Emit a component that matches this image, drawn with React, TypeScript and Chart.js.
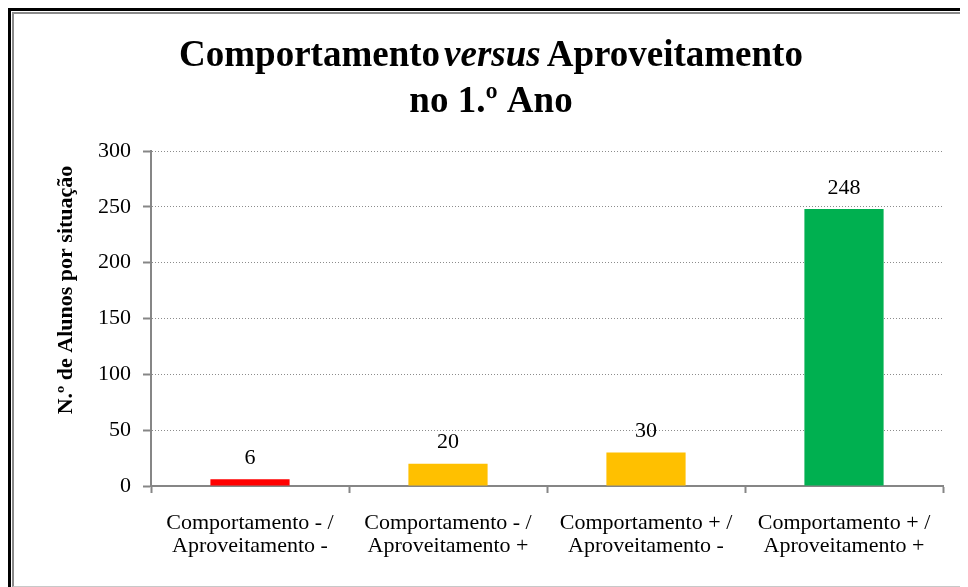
import React, { useEffect, useRef } from "react";
import { Chart, registerables } from "chart.js";

Chart.register(...registerables);

// ---- data ----
const categories: string[][] = [
  ["Comportamento - /", "Aproveitamento -"],
  ["Comportamento - /", "Aproveitamento +"],
  ["Comportamento + /", "Aproveitamento -"],
  ["Comportamento + /", "Aproveitamento +"],
];
const values: number[] = [6, 20, 30, 248];
const barColors: string[] = ["#FF0000", "#FFC000", "#FFC000", "#00B050"];
const yTicks: number[] = [0, 50, 100, 150, 200, 250, 300];
const titleLine1: string[] = ["Comportamento", "versus", "Aproveitamento"];
const titleLine2 = "no 1.º Ano";
const yAxisTitle = "N.º de Alunos por situação";

const SERIF = "'Liberation Serif', 'Times New Roman', serif";
const CANVAS_W = 954;
const CANVAS_H = 572;

const titlePlugin = {
  id: "customTitle",
  afterDraw(chart: any) {
    const ctx: CanvasRenderingContext2D = chart.ctx;
    ctx.save();
    ctx.fillStyle = "#000";
    ctx.textBaseline = "alphabetic";
    ctx.textAlign = "left";
    const fonts = [`bold 37px ${SERIF}`, `italic bold 37px ${SERIF}`, `bold 37px ${SERIF}`];
    const gaps = [4, 6];
    const widths = titleLine1.map((t, i) => {
      ctx.font = fonts[i];
      return ctx.measureText(t).width;
    });
    const total = widths.reduce((a, b) => a + b, 0) + gaps[0] + gaps[1];
    const cx = chart.width / 2;
    let x = cx - total / 2;
    titleLine1.forEach((t, i) => {
      ctx.font = fonts[i];
      ctx.fillText(t, x, 52);
      x += widths[i] + (gaps[i] || 0);
    });
    ctx.font = `bold 37px ${SERIF}`;
    ctx.textAlign = "center";
    ctx.fillText(titleLine2, cx, 98);

    // y axis title
    ctx.translate(52, 276);
    ctx.rotate(-Math.PI / 2);
    ctx.font = `bold 22px ${SERIF}`;
    ctx.textAlign = "center";
    ctx.textBaseline = "middle";
    ctx.fillText(yAxisTitle, 0, 0);
    ctx.restore();
  },
};

const dataLabelPlugin = {
  id: "dataLabels",
  afterDatasetsDraw(chart: any) {
    const ctx: CanvasRenderingContext2D = chart.ctx;
    const meta = chart.getDatasetMeta(0);
    ctx.save();
    ctx.fillStyle = "#000";
    ctx.font = `22px ${SERIF}`;
    ctx.textAlign = "center";
    ctx.textBaseline = "middle";
    meta.data.forEach((bar: any, i: number) => {
      ctx.fillText(String(values[i]), bar.x, bar.y - 21);
    });
    ctx.restore();
  },
};

export default function App() {
  const ref = useRef<HTMLCanvasElement | null>(null);

  useEffect(() => {
    if (!ref.current) return;
    const chart = new Chart(ref.current, {
      type: "bar",
      data: {
        labels: categories,
        datasets: [
          {
            data: values,
            backgroundColor: barColors,
            borderWidth: 0,
            barPercentage: 0.4,
            categoryPercentage: 1,
          },
        ],
      },
      options: {
        animation: false,
        responsive: false,
        devicePixelRatio: 1,
        layout: { padding: { left: 0, right: 25, top: 137, bottom: 0 } },
        plugins: {
          legend: { display: false },
          title: { display: false },
          tooltip: { enabled: false },
        },
        scales: {
          x: {
            grid: {
              drawOnChartArea: false,
              drawTicks: true,
              tickLength: 7,
              tickColor: "#868686",
              tickWidth: 2,
              offset: true,
            },
            border: { color: "#868686", width: 2 },
            ticks: {
              color: "#000",
              font: { family: SERIF, size: 22, lineHeight: 1.05 },
              padding: 19,
              maxRotation: 0,
              autoSkip: false,
            },
            afterFit: (scale: any) => {
              scale.height = 100;
            },
          },
          y: {
            min: yTicks[0],
            max: yTicks[yTicks.length - 1],
            grid: {
              color: "#8c8c8c",
              lineWidth: 1,
              drawTicks: true,
              tickLength: 8,
              tickColor: "#868686",
              tickWidth: 2,
              tickBorderDash: [],
            } as any,
            border: { color: "#868686", width: 2, dash: [1, 2] },
            ticks: {
              stepSize: yTicks[1] - yTicks[0],
              color: "#000",
              font: { family: SERIF, size: 22 },
              padding: 12,
            },
            afterFit: (scale: any) => {
              scale.width = 137;
            },
          },
        },
      } as any,
      plugins: [titlePlugin, dataLabelPlugin],
    });
    return () => chart.destroy();
  }, []);

  return (
    <div style={{ width: 960, height: 579, overflow: "hidden", position: "relative" }}>
      <div
        style={{
          position: "absolute",
          left: 0,
          top: 0,
          width: 1000,
          height: 620,
          borderTop: "3px solid #000",
          borderLeft: "3px solid #000",
          boxSizing: "border-box",
          background: "#fff",
        }}
      >
        <div
          style={{
            position: "absolute",
            left: 1,
            top: 1,
            width: CANVAS_W + 2,
            height: CANVAS_H + 3,
            borderTop: "2px solid #8a8a8a",
            borderLeft: "2px solid #8a8a8a",
            borderBottom: "1px solid #c8c8c8",
            boxSizing: "border-box",
          }}
        >
          <canvas ref={ref} width={CANVAS_W} height={CANVAS_H} style={{ display: "block" }} />
        </div>
      </div>
    </div>
  );
}
